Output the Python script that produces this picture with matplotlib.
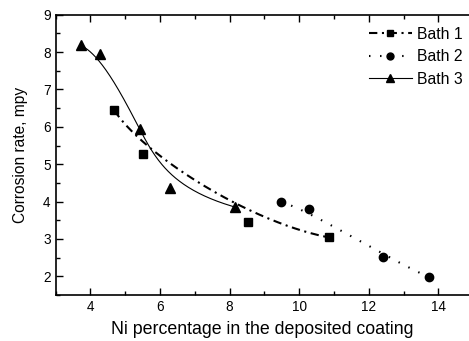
import numpy as np
import matplotlib.pyplot as plt
from matplotlib.lines import Line2D
from matplotlib.ticker import MultipleLocator

plt.rcParams['font.family'] = ['Liberation Sans', 'DejaVu Sans']

# data
bath1_x = [4.69, 5.51, 8.52, 10.86]
bath1_y = [6.44, 5.27, 3.46, 3.04]
bath2_x = [9.47, 10.29, 12.42, 13.73]
bath2_y = [3.99, 3.79, 2.52, 1.98]
bath3_x = [3.72, 4.28, 5.43, 6.29, 8.17]
bath3_y = [8.18, 7.95, 5.95, 4.35, 3.85]


def bspline(xs, ys, n=200):
    # clamped cubic B-spline using the data points as control points (Origin style)
    pts = np.column_stack([xs, ys])
    m = len(pts)
    k = min(3, m - 1)
    inner = np.linspace(0, 1, m - k + 1)[1:-1]
    t = np.concatenate([np.zeros(k + 1), inner, np.ones(k + 1)])
    u = np.linspace(0, 1, n)
    u[-1] = 1 - 1e-9

    def basis(i, p, u):
        if p == 0:
            return ((t[i] <= u) & (u < t[i + 1])).astype(float)
        out = np.zeros_like(u)
        if t[i + p] > t[i]:
            out += (u - t[i]) / (t[i + p] - t[i]) * basis(i, p - 1, u)
        if t[i + p + 1] > t[i + 1]:
            out += (t[i + p + 1] - u) / (t[i + p + 1] - t[i + 1]) * basis(i + 1, p - 1, u)
        return out

    B = np.array([basis(i, k, u) for i in range(m)])
    curve = B.T @ pts
    return curve[:, 0], curve[:, 1]


fig = plt.figure(figsize=(4.69, 3.41), dpi=100)
ax = fig.add_axes([55.5 / 469, 46 / 341, 1 - 55.5 / 469, 280.3 / 341])

dash1 = (0, (4, 2.2, 1, 2.2))
dot2 = (0, (0.7, 4.6))

cx, cy = bspline(bath1_x, bath1_y)
ax.plot(cx, cy, color='black', lw=1.5, linestyle=dash1)
ax.plot(bath1_x, bath1_y, 's', color='black', ms=5.7, linestyle='none')

cx, cy = bspline(bath2_x, bath2_y)
ax.plot(cx, cy, color='black', lw=1.5, linestyle=dot2)
ax.plot(bath2_x, bath2_y, 'o', color='black', ms=6, linestyle='none')

cx, cy = bspline(bath3_x, bath3_y)
ax.plot(cx, cy, color='black', lw=0.8, linestyle='-')
ax.plot(bath3_x, bath3_y, '^', color='black', ms=6.5, linestyle='none')

ax.set_xlim(3, 3 + (469 - 55.5) / 34.8)
ax.set_ylim(1.5, 9)
ax.xaxis.set_major_locator(MultipleLocator(2))
ax.xaxis.set_minor_locator(MultipleLocator(1))
ax.yaxis.set_major_locator(MultipleLocator(1))
ax.yaxis.set_minor_locator(MultipleLocator(0.5))
ax.tick_params(which='both', direction='in', top=True, right=False, labelsize=9.8)
ax.tick_params(which='major', length=5, width=1)
ax.tick_params(which='minor', length=3, width=1)
ax.spines['right'].set_visible(False)
for s in ['left', 'bottom', 'top']:
    ax.spines[s].set_linewidth(1.2)

ax.set_xlabel('Ni percentage in the deposited coating', fontsize=12.8, labelpad=5)
ax.set_ylabel('Corrosion rate, mpy', fontsize=11.2, labelpad=11)

handles = [
    Line2D([], [], color='black', lw=1.5, linestyle=dash1, marker='s', ms=5),
    Line2D([], [], color='black', lw=1.5, linestyle=dot2, marker='o', ms=5),
    Line2D([], [], color='black', lw=0.8, linestyle='-', marker='^', ms=6),
]
ax.legend(handles, ['Bath 1', 'Bath 2', 'Bath 3'], loc='upper right', frameon=False,
          fontsize=11.3, handlelength=2.74, labelspacing=0.48, handletextpad=0.32,
          borderaxespad=0, bbox_to_anchor=(1.0, 0.98))

fig.savefig('out.png', dpi=100)
